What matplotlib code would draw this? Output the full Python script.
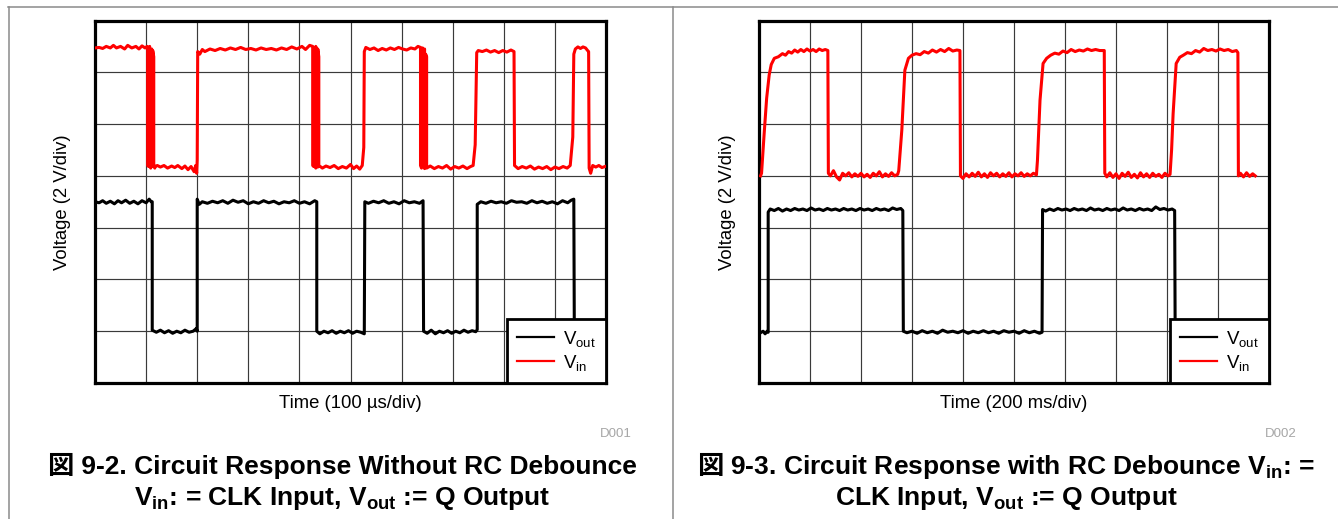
import matplotlib
matplotlib.use("Agg")
import matplotlib.pyplot as plt
from matplotlib.lines import Line2D

plt.rcParams['font.family'] = ['Liberation Sans', 'Noto Sans CJK JP', 'DejaVu Sans']
plt.rcParams['mathtext.fontset'] = 'custom'
plt.rcParams['mathtext.rm'] = 'Liberation Sans'
plt.rcParams['mathtext.bf'] = 'Liberation Sans:bold'
plt.rcParams['mathtext.it'] = 'Liberation Sans:italic'

W, H = 1338, 519

# ---------------- data (x in time divisions, y in voltage divisions) -------------
left_vin_t = [0.00,0.08,0.15,0.22,0.30,0.36,0.42,0.50,0.58,0.64,0.72,0.80,0.86,0.92,0.98,1.02,
              1.03,1.03,1.05,1.05,1.07,1.07,1.09,1.09,1.11,1.11,1.13,1.13,1.15,1.15,1.17,1.17,
              1.22,1.28,1.35,1.42,1.50,1.56,1.62,1.70,1.76,1.82,1.88,1.94,1.97,1.99,
              2.00,2.01,2.05,2.10,2.15,2.25,2.35,2.45,2.55,2.65,2.75,2.85,2.95,3.05,3.15,3.25,3.35,
              3.45,3.55,3.65,3.75,3.85,3.95,4.05,4.12,4.20,
              4.26,4.26,4.28,4.28,4.30,4.30,4.32,4.32,4.34,4.34,4.36,4.36,4.38,4.38,
              4.45,4.52,4.60,4.68,4.76,4.84,4.92,5.00,5.06,5.12,5.18,5.23,5.26,
              5.27,5.30,5.38,5.46,5.54,5.62,5.70,5.78,5.86,5.94,6.02,6.10,6.18,6.26,6.32,
              6.37,6.37,6.39,6.39,6.41,6.41,6.43,6.43,6.45,6.45,6.47,6.47,6.49,6.49,
              6.56,6.64,6.72,6.80,6.88,6.96,7.04,7.12,7.20,7.28,7.35,7.40,7.44,
              7.47,7.50,7.58,7.66,7.74,7.82,7.90,7.98,8.06,8.14,8.20,
              8.21,8.28,8.36,8.44,8.52,8.60,8.68,8.76,8.84,8.92,9.00,9.08,9.16,9.24,9.30,9.35,
              9.37,9.40,9.45,9.50,9.55,9.60,9.64,9.66,
              9.67,9.70,9.74,9.80,9.86,9.92,9.98]
left_vin_v = [6.47,6.48,6.46,6.50,6.47,6.52,6.47,6.50,6.45,6.52,6.47,6.50,6.45,6.51,6.47,6.50,
              6.48,4.20,4.18,6.45,6.50,4.20,4.15,6.40,6.45,4.20,4.18,6.42,6.30,4.20,4.15,4.18,
              4.20,4.17,4.20,4.15,4.19,4.16,4.20,4.14,4.19,4.12,4.18,4.08,4.20,4.05,
              4.30,6.40,6.35,6.44,6.40,6.45,6.42,6.46,6.43,6.47,6.44,6.48,6.44,6.46,6.43,6.47,6.44,
              6.46,6.43,6.47,6.44,6.49,6.45,6.50,6.44,6.52,
              6.50,4.20,4.18,6.48,6.45,4.20,4.15,6.50,6.40,4.20,4.17,6.45,6.30,4.20,
              4.15,4.19,4.16,4.20,4.14,4.18,4.15,4.22,4.14,4.19,4.13,4.20,4.55,
              6.40,6.48,6.44,6.47,6.42,6.46,6.43,6.47,6.44,6.48,6.45,6.43,6.47,6.45,6.50,
              6.48,4.20,4.15,6.45,6.47,4.18,4.20,6.40,6.45,4.14,4.20,6.35,6.30,4.15,
              4.19,4.14,4.18,4.15,4.20,4.13,4.18,4.15,4.19,4.14,4.18,4.20,4.60,
              6.38,6.42,6.40,6.43,6.39,6.42,6.38,6.42,6.39,6.43,6.40,
              4.20,4.14,4.18,4.15,4.19,4.13,4.17,4.14,4.18,4.12,4.17,4.14,4.18,4.15,4.20,4.75,
              6.35,6.45,6.49,6.46,6.49,6.47,6.42,6.40,
              4.15,4.05,4.20,4.17,4.20,4.16,4.18]

left_vout_t = [0.00,0.08,0.15,0.22,0.30,0.38,0.45,0.52,0.60,0.68,0.76,0.84,0.92,1.00,1.06,1.10,1.12,
               1.12,1.20,1.28,1.36,1.44,1.52,1.60,1.68,1.76,1.84,1.92,1.98,2.00,
               2.00,2.04,2.10,2.20,2.30,2.40,2.50,2.60,2.70,2.80,2.90,3.00,3.10,3.20,3.30,3.40,3.50,
               3.60,3.70,3.80,3.90,4.00,4.10,4.20,4.30,4.34,
               4.34,4.40,4.48,4.56,4.64,4.72,4.80,4.88,4.96,5.04,5.12,5.20,5.27,
               5.28,5.35,5.45,5.55,5.65,5.75,5.85,5.95,6.05,6.15,6.25,6.35,6.42,
               6.43,6.50,6.58,6.66,6.74,6.82,6.90,6.98,7.06,7.14,7.22,7.30,7.38,7.45,7.48,
               7.48,7.55,7.65,7.75,7.85,7.95,8.05,8.15,8.25,8.35,8.45,8.55,8.65,8.75,8.85,8.95,
               9.05,9.15,9.25,9.32,9.37,
               9.38,9.50,9.70,9.98]
left_vout_v = [3.50,3.48,3.52,3.47,3.51,3.46,3.52,3.48,3.53,3.47,3.51,3.46,3.52,3.48,3.55,3.50,3.50,
               1.02,0.98,1.02,0.97,1.01,0.96,1.00,0.97,1.02,0.98,1.00,1.05,1.00,
               3.55,3.45,3.50,3.47,3.51,3.48,3.52,3.47,3.53,3.49,3.52,3.46,3.50,3.47,3.52,3.48,3.51,
               3.46,3.50,3.48,3.52,3.47,3.50,3.46,3.52,3.50,
               1.00,0.95,1.00,0.97,1.01,0.96,1.00,0.97,1.01,0.96,1.00,0.98,0.95,
               3.50,3.47,3.51,3.48,3.52,3.47,3.50,3.46,3.52,3.48,3.50,3.47,3.52,
               1.00,0.96,1.02,0.95,1.00,0.97,1.01,0.96,1.00,0.97,1.02,0.98,1.01,0.99,1.03,
               3.45,3.50,3.47,3.51,3.48,3.50,3.47,3.52,3.49,3.50,3.47,3.52,3.48,3.51,3.47,3.50,
               3.46,3.52,3.48,3.53,3.55,
               1.00,1.00,1.00,1.00]

right_vin_t = [0.03,0.05,0.10,0.15,0.20,0.24,0.30,0.38,0.46,0.52,0.58,0.64,0.70,0.76,0.82,0.88,0.94,1.00,
               1.06,1.12,1.18,1.24,1.30,1.35,
               1.36,1.40,1.46,1.52,1.58,1.64,1.70,1.76,1.82,1.88,1.94,2.00,2.06,2.12,2.18,2.24,2.30,
               2.36,2.42,2.48,2.54,2.60,2.66,2.72,
               2.74,2.80,2.86,2.93,3.00,3.08,3.16,3.24,3.32,3.40,3.48,3.56,3.64,3.72,3.80,3.88,3.94,
               3.95,4.00,4.06,4.12,4.18,4.24,4.30,4.36,4.42,4.48,4.54,4.60,4.66,4.72,4.78,4.84,4.90,
               4.96,5.02,5.08,5.14,5.20,5.26,5.32,5.38,5.44,
               5.46,5.51,5.57,5.64,5.72,5.80,5.88,5.96,6.04,6.12,6.20,6.28,6.36,6.44,6.52,6.60,6.68,6.77,
               6.78,6.82,6.88,6.94,7.00,7.06,7.12,7.18,7.24,7.30,7.36,7.42,7.48,7.54,7.60,7.66,7.72,
               7.78,7.84,7.90,7.96,8.02,8.06,
               8.09,8.12,8.18,8.25,8.32,8.40,8.48,8.56,8.64,8.72,8.80,8.88,8.96,9.04,9.12,9.20,9.28,
               9.36,9.39,
               9.40,9.44,9.50,9.56,9.62,9.68,9.73]
right_vin_v = [4.00,4.05,4.80,5.50,5.95,6.15,6.27,6.30,6.36,6.33,6.40,6.37,6.43,6.39,6.44,6.40,6.45,6.41,
               6.44,6.40,6.45,6.42,6.44,6.42,
               4.05,4.00,4.10,3.98,3.92,4.05,4.00,4.06,3.98,4.04,3.99,4.05,3.98,4.03,3.97,4.05,4.00,
               4.08,3.98,4.04,3.99,4.06,4.00,4.03,
               4.10,4.88,6.04,6.27,6.33,6.36,6.34,6.40,6.37,6.43,6.39,6.44,6.40,6.46,6.41,6.43,6.42,
               4.00,3.95,4.04,3.98,4.05,3.99,4.07,3.98,4.04,3.97,4.06,4.00,4.05,3.98,4.04,3.99,4.06,
               3.98,4.04,4.00,4.06,3.99,4.04,4.00,4.05,4.02,
               4.30,5.46,6.17,6.27,6.33,6.37,6.35,6.41,6.38,6.44,6.40,6.43,6.41,6.45,6.42,6.44,6.42,6.42,
               4.05,3.98,4.06,3.97,4.04,3.95,4.05,3.99,4.07,3.97,4.03,3.96,4.06,3.98,4.04,3.97,4.05,
               3.99,4.03,3.97,4.05,4.00,4.03,
               4.50,5.20,6.17,6.29,6.33,6.38,6.36,6.42,6.39,6.46,6.42,6.44,6.41,6.45,6.42,6.44,6.40,
               6.42,6.38,
               4.00,4.05,3.98,4.06,3.99,4.04,4.00]

right_vout_t = [0.03,0.08,0.12,0.16,0.18,
                0.18,0.22,0.30,0.38,0.46,0.54,0.62,0.70,0.78,0.86,0.94,1.02,1.10,1.18,1.26,1.34,1.42,
                1.50,1.58,1.66,1.74,1.82,1.90,1.98,2.06,2.14,2.22,2.30,2.38,2.46,2.54,2.62,2.70,2.78,2.82,
                2.83,2.90,3.00,3.10,3.20,3.30,3.40,3.50,3.60,3.70,3.80,3.90,4.00,4.10,4.20,4.30,4.40,
                4.50,4.60,4.70,4.80,4.90,5.00,5.10,5.20,5.30,5.40,5.50,5.55,
                5.56,5.62,5.70,5.78,5.86,5.94,6.02,6.10,6.18,6.26,6.34,6.42,6.50,6.58,6.66,6.74,6.82,
                6.90,6.98,7.06,7.14,7.22,7.30,7.38,7.46,7.54,7.62,7.70,7.78,7.86,7.94,8.02,8.10,8.15,
                8.16,8.40,8.80,9.20,9.73]
right_vout_v = [0.97,1.00,0.95,1.00,0.98,
                3.30,3.36,3.33,3.37,3.32,3.36,3.33,3.37,3.34,3.36,3.33,3.38,3.34,3.36,3.33,3.37,3.34,
                3.36,3.33,3.37,3.34,3.36,3.33,3.37,3.34,3.36,3.33,3.37,3.34,3.36,3.33,3.38,3.35,3.37,3.33,
                1.00,0.97,1.00,0.96,1.01,0.97,1.00,0.96,1.02,0.98,1.00,0.97,1.01,0.96,1.00,0.97,1.01,
                0.97,1.00,0.96,1.01,0.98,1.00,0.96,1.01,0.97,1.00,0.96,0.98,
                3.35,3.32,3.36,3.33,3.37,3.34,3.36,3.33,3.37,3.34,3.36,3.33,3.38,3.34,3.36,3.33,3.37,
                3.34,3.36,3.33,3.38,3.34,3.36,3.33,3.37,3.34,3.36,3.33,3.40,3.35,3.37,3.34,3.36,3.33,
                1.00,1.00,1.00,1.00,1.00]

x_labels = ["Time (100 \u00b5s/div)", "Time (200 ms/div)"]
y_label = "Voltage (2 V/div)"
codes = ["D001", "D002"]
fig_mark = "\u56f3"
caption_line1 = [" 9-2. Circuit Response Without RC Debounce",
                 r" 9-3. Circuit Response with RC Debounce V$_{\mathbf{in}}$: ="]
caption_line2 = [r"V$_{\mathbf{in}}$: = CLK Input, V$_{\mathbf{out}}$ := Q Output",
                 r"CLK Input, V$_{\mathbf{out}}$ := Q Output"]
legend_labels = [r"V$_{\mathrm{out}}$", r"V$_{\mathrm{in}}$"]

# ---------------- figure ----------------
fig = plt.figure(figsize=(W / 100, H / 100), dpi=100)
renderer = fig.canvas.get_renderer()

def fx(x):
    return x / W

def fy(y):
    return 1 - y / H

# outer gray frame
fig.add_artist(Line2D([fx(8), fx(W)], [fy(7), fy(7)], color='#8a8a8a', lw=1.1))
fig.add_artist(Line2D([fx(9), fx(9)], [fy(7), fy(H)], color='#8a8a8a', lw=1.1))
fig.add_artist(Line2D([fx(673.5), fx(673.5)], [fy(7), fy(H)], color='#8a8a8a', lw=1.1))

panels = [
    dict(x0=95, x1=606, vin=(left_vin_t, left_vin_v), vout=(left_vout_t, left_vout_v),
         ylab_x=63, xlab_x=350, code_x=632, cap_x=342),
    dict(x0=759, x1=1269, vin=(right_vin_t, right_vin_v), vout=(right_vout_t, right_vout_v),
         ylab_x=727, xlab_x=1014, code_x=1297, cap_x=1006),
]
top, bot = 20.5, 383

for i, p in enumerate(panels):
    ax = fig.add_axes([fx(p['x0']), fy(bot), (p['x1'] - p['x0']) / W, (bot - top) / H])
    ax.set_xlim(0, 10)
    ax.set_ylim(0, 7)
    ax.set_xticks(range(11))
    ax.set_yticks(range(8))
    ax.tick_params(length=0, labelbottom=False, labelleft=False)
    ax.grid(True, color='#3a3a3a', lw=0.85)
    for s in ax.spines.values():
        s.set_linewidth(2.3)
        s.set_color('black')
    ax.plot(*p['vout'], color='black', lw=2.2, solid_joinstyle='round', zorder=3)
    ax.plot(*p['vin'], color='#ff0000', lw=2.2, solid_joinstyle='round', zorder=3)
    handles = [Line2D([], [], color='black', lw=1.6), Line2D([], [], color='#ff0000', lw=1.6)]
    leg = ax.legend(handles, legend_labels, loc='lower right', bbox_to_anchor=(1, 0),
                    borderaxespad=0, fancybox=False, framealpha=1, edgecolor='black',
                    fontsize=13.5, handlelength=2.0, handletextpad=0.45, borderpad=0.55,
                    labelspacing=0.2)
    leg.get_frame().set_linewidth(2.0)
    leg.set_zorder(10)

    fig.text(fx(p['ylab_x']), fy((top + bot) / 2), y_label, rotation=90, ha='center',
             va='center', fontsize=13.3)
    fig.text(fx(p['xlab_x']), fy(404), x_labels[i], ha='center', va='center', fontsize=13.3)
    fig.text(fx(p['code_x']), fy(434), codes[i], ha='right', va='center', fontsize=9.5,
             color='#a6a6a6')

    # caption line 1: mark + rest, centred together
    t_mark = fig.text(0, fy(467), fig_mark, ha='left', va='center', fontsize=19,
                      fontweight='bold', family=['Noto Sans CJK JP'])
    t_rest = fig.text(0, fy(467), caption_line1[i], ha='left', va='center', fontsize=19,
                      fontweight='bold')
    wm = t_mark.get_window_extent(renderer).width
    wr = t_rest.get_window_extent(renderer).width
    x_start = p['cap_x'] - (wm + wr) / 2
    t_mark.set_x(fx(x_start))
    t_rest.set_x(fx(x_start + wm))
    fig.text(fx(p['cap_x']), fy(498), caption_line2[i], ha='center', va='center',
             fontsize=19, fontweight='bold')

fig.savefig("out.png", dpi=100)
